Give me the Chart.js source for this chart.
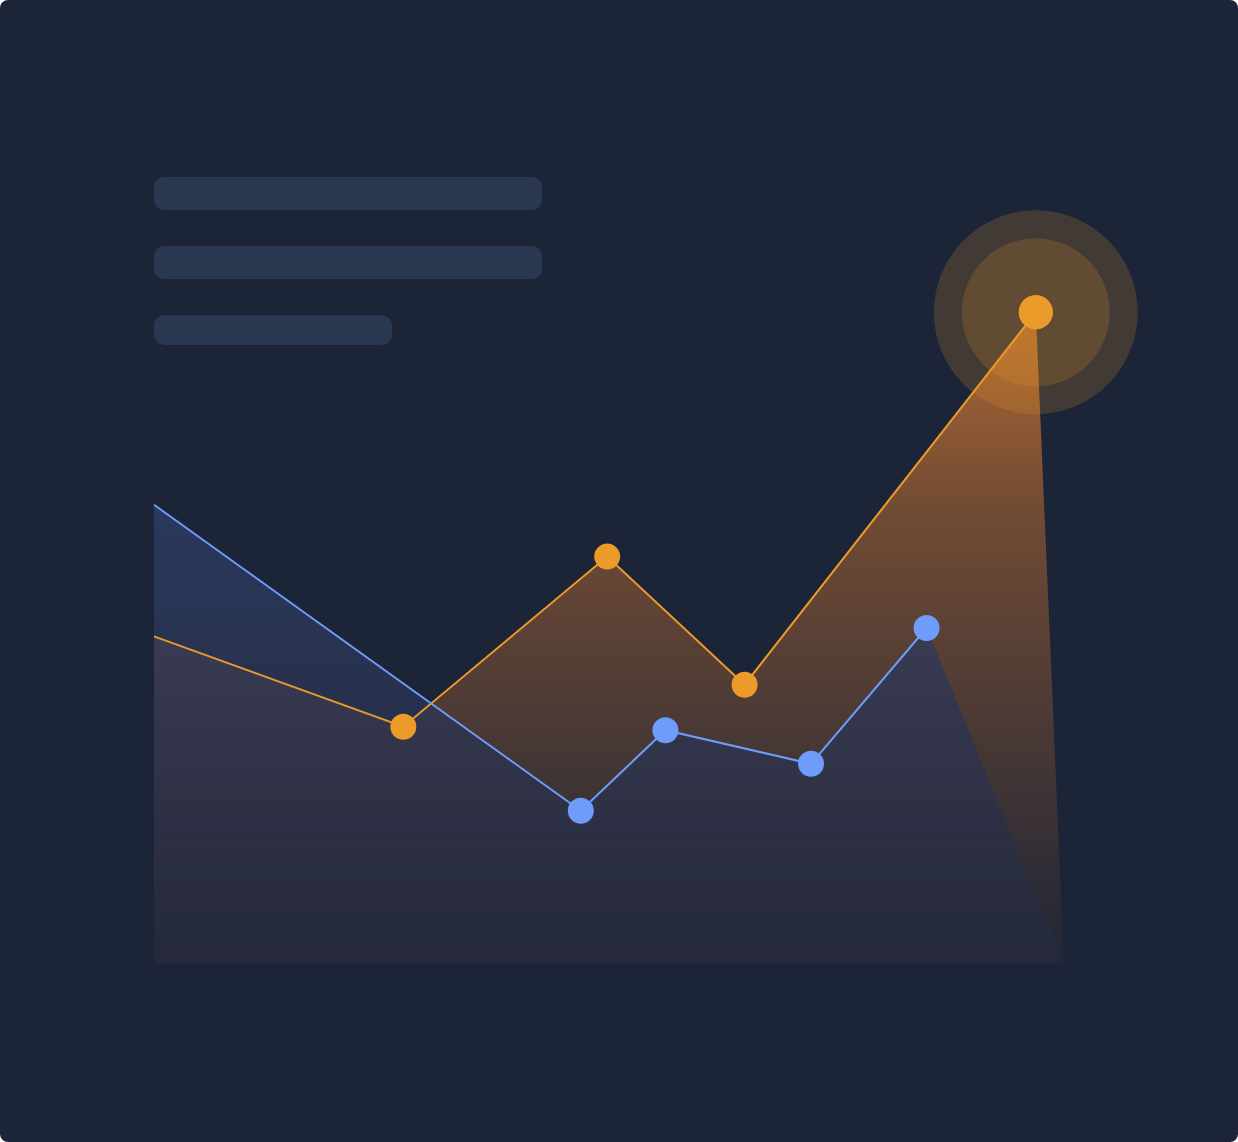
<!DOCTYPE html>
<html>
<head>
<meta charset="utf-8">
<script src="https://cdn.jsdelivr.net/npm/chart.js@4"></script>
<style>
    html, body { margin: 0; padding: 0; background: #ffffff; }
    .card {
        position: relative;
        width: 1238px;
        height: 1142px;
        background: #1c2437;
        border-radius: 8px;
        overflow: hidden;
    }
    .skeleton {
        position: absolute;
        left: 154px;
        background: #2a3751;
        border-radius: 10px;
    }
    canvas { position: absolute; left: 0; top: 0; }
</style>
</head>
<body>
<div class="card">
    <div class="skeleton" style="top:177px;width:388px;height:33px"></div>
    <div class="skeleton" style="top:246px;width:388px;height:33px"></div>
    <div class="skeleton" style="top:315px;width:238px;height:30px"></div>
    <canvas id="trendChart" width="1238" height="1142"></canvas>
</div>
<script>
// x runs 0..100 across the plot, y runs 0..100 from the baseline up
// the last point of each series is where its shaded area meets the baseline
const orangeX = [0, 27.4, 49.8, 64.9, 96.9, 100];
const orangeValues = [46.8, 33.9, 58.2, 39.9, 93.1, 0];
const blueX = [0, 46.9, 56.2, 72.2, 84.9, 100];
const blueValues = [65.6, 21.9, 33.4, 28.6, 48.0, 0];
const highlightIndex = 4;

const ORANGE = "#ec9a2a";
const BLUE = "#6f9cfb";

document.addEventListener("DOMContentLoaded", initializeChart);

function toPoints(xs, ys){
    return xs.map((x, i) => ({ x: x, y: ys[i] }));
}

function orangeFill(context){
    const chart = context.chart;
    const area = chart.chartArea;
    if(!area) return "rgba(232,130,48,0.3)";
    const g = chart.ctx.createLinearGradient(0, area.top, 0, area.bottom);
    g.addColorStop(0, "rgba(232,130,48,0.8)");
    g.addColorStop(0.35, "rgba(232,130,48,0.42)");
    g.addColorStop(1, "rgba(232,130,48,0.02)");
    return g;
}

function blueFill(context){
    const chart = context.chart;
    const area = chart.chartArea;
    if(!area) return "rgba(52,74,128,0.8)";
    const g = chart.ctx.createLinearGradient(0, area.top, 0, area.bottom);
    g.addColorStop(0, "rgba(52,74,128,0.8)");
    g.addColorStop(1, "rgba(38,42,60,0.7)");
    return g;
}

function pointSize(big){
    return ctx => {
        if(ctx.dataIndex === 0) return 0;
        if(big && ctx.dataIndex === highlightIndex) return 17;
        return 13;
    };
}

const haloPlugin = {
    id: "halo",
    afterDatasetsDraw(chart){
        const meta = chart.getDatasetMeta(1);
        const pt = meta.data[highlightIndex];
        if(!pt) return;
        const c = chart.ctx;
        c.save();
        c.fillStyle = "rgba(236,154,42,0.19)";
        c.beginPath();
        c.arc(pt.x, pt.y, 102, 0, Math.PI * 2);
        c.fill();
        c.beginPath();
        c.arc(pt.x, pt.y, 74, 0, Math.PI * 2);
        c.fill();
        c.fillStyle = ORANGE;
        c.beginPath();
        c.arc(pt.x, pt.y, 17, 0, Math.PI * 2);
        c.fill();
        c.restore();
    }
};

function initializeChart(){
    const ctx = document.getElementById("trendChart");
    const orangeAll = toPoints(orangeX, orangeValues);
    const blueAll = toPoints(blueX, blueValues);
    new Chart(ctx, {
        type: "line",
        data: {
            datasets: [
                {
                    label: "Blue",
                    data: blueAll.slice(0, -1),
                    borderColor: BLUE,
                    borderWidth: 2,
                    fill: false,
                    tension: 0,
                    pointRadius: pointSize(false),
                    pointBackgroundColor: BLUE,
                    pointBorderWidth: 0
                },
                {
                    label: "Orange",
                    data: orangeAll.slice(0, -1),
                    borderColor: ORANGE,
                    borderWidth: 2,
                    fill: false,
                    tension: 0,
                    pointRadius: pointSize(true),
                    pointBackgroundColor: ORANGE,
                    pointBorderWidth: 0
                },
                {
                    label: "Blue area",
                    data: blueAll,
                    borderWidth: 0,
                    borderColor: "transparent",
                    backgroundColor: blueFill,
                    fill: "origin",
                    tension: 0,
                    pointRadius: 0
                },
                {
                    label: "Orange area",
                    data: orangeAll,
                    borderWidth: 0,
                    borderColor: "transparent",
                    backgroundColor: orangeFill,
                    fill: "origin",
                    tension: 0,
                    pointRadius: 0
                }
            ]
        },
        options: {
            responsive: false,
            animation: false,
            events: [],
            clip: false,
            layout: {
                padding: { left: 154, right: 174, top: 264, bottom: 178 }
            },
            plugins: {
                legend: { display: false },
                tooltip: { enabled: false },
                filler: { drawTime: "beforeDatasetsDraw" }
            },
            scales: {
                x: { type: "linear", min: 0, max: 100, display: false },
                y: { min: 0, max: 100, display: false }
            }
        },
        plugins: [haloPlugin]
    });
}
</script>
</body>
</html>
